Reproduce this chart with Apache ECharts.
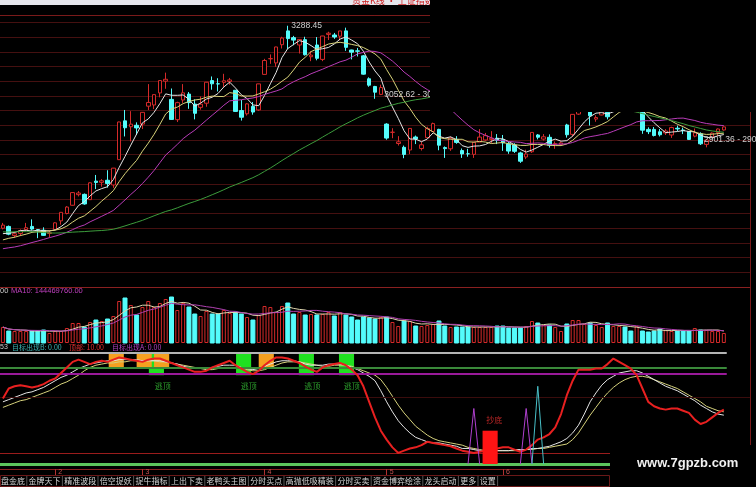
<!DOCTYPE html>
<html><head><meta charset="utf-8">
<script src="https://cdn.jsdelivr.net/npm/echarts@6/dist/echarts.min.js"></script>
<style>html,body{margin:0;padding:0;background:#000;}#c{width:756px;height:487px;}</style>
</head><body><div id="c"></div>
<script>
// ---------- candles (SSE composite, 2019-01-21 .. 2019-07-26) ----------
const opens = [2600,2606,2575,2582,2595,2606,2595,2593,2582,2596,
2625,2650,2678,2714,2715,2697,2760,2756,2763,2747,
2833,2965,2945,2950,2954,3015,3019,3060,3100,3038,
2969,3036,3056,3022,3011,3025,3102,3091,3096,3099,
3069,3000,2989,3014,3002,3123,3176,3162,3224,3271,
3248,3223,3241,3183,3223,3174,3259,3257,3253,3271,
3206,3203,3186,3108,3082,3055,2954,2926,2888,2875,
2866,2910,2871,2908,2929,2936,2874,2870,2902,2864,
2853,2851,2893,2900,2902,2906,2901,2887,2883,2856,
2842,2860,2917,2903,2909,2885,2885,2951,2919,2988,
3006,3004,2971,2985,2994,3024,3040,3034,3014,3000,
3008,2936,2936,2928,2924,2917,2940,2934,2929,2913,
2921,2885,2909,2925,2934];
const closes = [2610.51,2579.70,2581.00,2591.69,2601.72,2596.98,2594.25,2575.58,2584.57,2618.23,
2653.90,2671.89,2721.07,2719.70,2682.39,2754.36,2755.65,2761.22,2751.80,2804.23,
2961.28,2941.52,2953.82,2940.95,2994.01,3027.58,3054.25,3102.10,3106.42,2969.86,
3026.99,3060.31,3026.95,2990.69,3021.75,3096.42,3090.98,3090.64,3101.46,3104.15,
2997.10,2977.33,3022.72,2994.94,3090.76,3170.36,3176.82,3216.30,3246.57,3244.81,
3239.66,3241.93,3189.96,3188.63,3177.79,3253.60,3263.12,3250.20,3270.80,3215.04,
3198.59,3201.61,3123.83,3086.40,3062.50,3078.34,2906.46,2926.39,2893.76,2850.95,
2939.21,2903.71,2883.61,2938.68,2955.71,2882.30,2870.60,2905.97,2891.70,2852.52,
2852.99,2892.38,2909.91,2914.70,2905.81,2898.70,2890.08,2862.28,2861.42,2827.80,
2852.13,2925.72,2909.38,2910.74,2881.97,2887.62,2890.16,2917.80,2987.12,3001.98,
3008.15,2982.07,2976.28,2996.79,2978.88,3044.90,3043.94,3015.26,3005.25,3011.06,
2933.36,2928.23,2915.30,2917.76,2930.55,2942.19,2937.62,2931.69,2901.95,2924.20,
2886.97,2899.94,2923.28,2937.36,2944.54];
const lows = [2596,2576,2567,2573,2590,2592,2566,2574,2568,2595,
2612,2647,2677,2708,2680,2697,2733,2741,2738,2737,
2833,2912,2895,2917,2937,3002,3005,3045,3074,2968,
2961,3026,3006,2970,3003,3013,3071,3065,3080,3088,
2996,2966,2983,2986,2999,3123,3159,3149,3211,3209,
3222,3194,3187,3168,3171,3168,3240,3244,3239,3203,
3174,3184,3122,3081,3040,3052.62,2901,2906,2881,2838,
2852,2886,2864,2906,2927,2865,2839,2863,2887,2839,
2843,2839,2893,2897,2890,2886,2863,2853,2856,2822,
2835,2856,2902,2898,2874,2870,2882,2908,2911,2985,
2997,2949,2962,2984,2970,3022,3030,3011,2999,2994,
2921,2920,2912,2912,2917,2907,2930,2920,2901,2909,
2883,2875,2907,2913,2932];
const highs = [2618,2609,2589,2596,2618,2630,2597,2603,2592,2620,
2654,2675,2723,2726,2718,2756,2781,2767,2797,2805,
2962,3002,2998,2960,2995,3090,3055,3103,3129,3075,
3030,3090,3063,3038,3048,3097,3116,3110,3125,3111,
3069,3036,3025,3029,3091,3176,3191,3217,3251,3288.45,
3254,3242,3251,3202,3250,3254,3268,3264,3271,3282,
3207,3213,3189,3113,3084,3088,2957,2940,2913,2881,
2940,2915,2894,2945,2959,2938,2878,2911,2913,2871,
2870,2893,2937,2924,2930,2920,2917,2893,2889,2860,
2867,2926,2920,2920,2919,2895,2895,2955,2988,3010,
3019,3005,2984,3009,2996,3048,3050,3039,3023,3012,
3009,2943,2944,2937,2937,2945,2949,2942,2929,2939,
2926,2901,2926,2939,2946];
// closes before the first visible day (for the moving averages)
const priorCloses = [2654.88,2594.83,2603.30,2603.80,2598.85,2542.10,2568.05,2602.78,2606.24,2676.48,
2665.43,2659.36,2641.34,2635.63,2598.87,2630.52,2654.88,2632.24,2668.17,2679.11,
2703.51,2645.85,2651.51,2645.43,2579.48,2575.81,2574.68,2601.74,2567.44,2588.19,
2654.80,2665.96,2649.81,2605.18,2605.89,2584.58,2594.09,2602.15,2634.05,2593.74,
2597.97,2576.65,2549.56,2536.27,2516.25,2527.01,2504.82,2498.29,2483.09,2493.90,
2465.29,2464.36,2514.87,2533.09,2526.46,2544.34,2535.10,2553.83,2535.77,2570.42,
2570.34,2559.64,2596.01];
// volume (millions)
const volumes = [192,144,144,144,144,144,144,156,120,144,
144,180,240,240,192,252,276,264,288,324,
504,540,456,336,432,504,432,480,528,552,
396,480,432,348,324,384,348,348,396,360,
372,348,312,276,336,444,432,372,444,480,
348,372,336,348,336,348,372,324,372,336,
312,276,312,300,288,312,312,252,204,264,
264,204,204,216,228,264,204,192,192,192,
192,192,192,192,192,204,204,180,180,180,
204,264,240,216,216,192,144,228,276,276,
228,240,216,192,240,204,204,192,144,204,
144,132,144,168,156,144,144,144,144,180,
156,156,144,144,120];
// ---------- oscillator panel ----------
const oscMain = [59,68,70,71,70,69,70,72,75,77,
82,87,92,94,92,90,92,93,92,94,
96,95,94,93,92,94,95,95,93,91,
89,87,85,83,83,84,87,89,91,93,
89,86,83,81,84,89,93,96,96,95,
93,91,88,85,83,87,89,90,91,89,
85,80,70,56,42,30,22,15,10,12,
14,15,17,20,19,18,17,16,14,12,
11,10,11,12,13,14,15,15,13,11,
13,17,22,24,27,33,45,62,75,85,
85,85,86,86,90,95,92,89,86,80,
68,56,52,50,49,50,50,48,46,40,
36,38,42,46,49];
const oscFast = [56,58,60,62,64,65,67,69,72,75,
78,80,83,86,88,90,91,92,93,93,
94,94,94,94,93,93,93,93,92,91,
90,88,87,86,86,86,87,88,89,89,
89,87,86,85,86,88,90,92,93,93,
93,92,90,89,89,89,90,90,90,89,
87,85,82,79,75,66,56,47,39,33,
28,24,22,20,19,19,18,17,16,14,
14,13,12,11,11,12,12,12,13,13,
13,14,14,15,16,18,20,23,28,35,
45,56,64,71,76,79,82,83,84,84,
82,79,76,73,70,68,66,63,60,57,
53,50,47,45,44];
const oscSlow = [51,53,55,57,58,60,62,64,66,69,
72,74,77,80,84,87,89,90,91,91,
92,92,93,93,93,93,93,92,92,91,
90,89,88,87,86,85,85,86,87,87,
87,87,85,84,84,85,87,89,91,92,
92,92,91,90,89,88,88,89,89,89,
88,86,84,82,80,76,69,61,53,46,
40,34,30,26,23,21,20,19,18,17,
15,14,13,12,12,12,12,12,12,12,
13,13,14,14,15,16,17,18,22,28,
36,44,51,58,64,69,73,76,78,79,
79,78,76,74,72,70,68,65,62,59,
56,52,50,48,47];
const levelTop = 100, levelGreen = 87, levelPurple = 81, levelMid = 60, levelLow = 10, levelZero = 0;
const orangeBoxIdx = [19.5, 24.3, 27.3, 45.3];
const orangeBoxRange = [100, 86];
const greenBoxIdx = [26.4, 41.4, 52.2, 59.1];
const greenBoxRange = [100, 80];
const bottomBarIdx = [83.8];
const bottomBarRange = [30, 0];
const signalAIdx = [81, 90], signalAPeak = [50, 50];
const signalBIdx = [92], signalBPeak = [70];
const topSignalIdx = [27.5, 42.3, 53.2, 60.0], topSignalLevel = 70;
const bottomSignalIdx = [84.5], bottomSignalLevel = 40;
// ---------- tick labels / texts ----------
const monthTickIdx = [9, 24, 45, 66, 86];
const monthTickLabels = ['2', '3', '4', '5', '6'];
const priceNotes = [
  {idx: 49, price: 3288.45, text: '3288.45'},
  {idx: 65, price: 3052.62, text: '3052.62 - 3088.27'},
  {idx: 120, price: 2901.36, text: '2901.36 - 2909.66'}
];
const toolbarItems = ['盘金底','金牌天下','精准波段','倍空捉妖','捉牛指标','上出下卖','老鸭头主图','分时买点','高抛低吸精装','分时买卖','资金博弈绘涂','龙头启动','更多','设置'];

// ---------- build ----------
const SLOTS = 129;
const cats = Array.from({length: SLOTS}, (_, i) => String(i));
const candleData = closes.map((c, i) => [opens[i], c, lows[i], highs[i]]);
function movingAvg(series, prior, n) {
  const all = prior.concat(series), off = prior.length;
  return series.map((_, i) => {
    const end = off + i, start = Math.max(0, end - n + 1);
    let s = 0; for (let k = start; k <= end; k++) s += all[k];
    return +(s / (end - start + 1)).toFixed(2);
  });
}
const UP = '#d42a2a', DOWN = '#54fcfc';
const volData = volumes.map((v, i) => ({value: v, itemStyle: closes[i] >= opens[i]
  ? {color: '#000', borderColor: UP, borderWidth: 1} : {color: DOWN, borderColor: DOWN}}));
const xy = arr => arr.map((v, i) => [i, v]);
function spikes(idx, peaks) {
  const d = [];
  idx.forEach((x, k) => { d.push([x - 1, 0], [x, peaks[k]], [x + 1, 0], [x + 1.5, '-']); });
  return d;
}
function boxRenderer(range, color) {
  return (params, api) => {
    const cx = api.value(0);
    const a = api.coord([cx, range[0]]), b = api.coord([cx, range[1]]);
    const w = api.size([1, 0])[0] * 2.6;
    return {type: 'rect', shape: {x: a[0] - w / 2, y: a[1], width: w, height: b[1] - a[1]}, style: {fill: color}};
  };
}
const FRAME = '#7a1a1a';
const CJK = '"Noto Sans CJK SC"';

// toolbar graphics
const tbEls = [];
let tx = 1;
const tbFont = 8;
toolbarItems.forEach((t) => {
  tbEls.push({type: 'text', x: tx, y: 481, z: 110,
    style: {text: t, fill: '#d2d2d2', font: tbFont + 'px ' + CJK, verticalAlign: 'middle'}});
  tx += t.length * tbFont + 3.6;
  tbEls.push({type: 'line', z: 110, shape: {x1: tx - 1.8, y1: 476, x2: tx - 1.8, y2: 486},
    style: {stroke: '#555', lineWidth: 1}});
});

const option = {
  backgroundColor: '#000',
  animation: false,
  grid: [
    {left: 0, right: 6, top: 15, height: 272},
    {left: 0, right: 6, top: 287, height: 56},
    {left: 0, right: 6, top: 343, height: 126}
  ],
  xAxis: [
    {type: 'category', data: cats, gridIndex: 0, position: 'top', boundaryGap: true,
      axisLine: {show: true, onZero: false, lineStyle: {color: FRAME}}, axisTick: {show: false}, axisLabel: {show: false}, splitLine: {show: false}},
    {type: 'category', data: cats, gridIndex: 1, position: 'top', boundaryGap: true,
      axisLine: {show: true, onZero: false, lineStyle: {color: '#8a2020'}}, axisTick: {show: false}, axisLabel: {show: false}, splitLine: {show: false}},
    {type: 'value', gridIndex: 2, min: -0.5, max: 128.5, position: 'bottom',
      axisLine: {show: true, onZero: false, lineStyle: {color: '#8a2020'}},
      axisTick: {show: true, customValues: monthTickIdx, length: 6, lineStyle: {color: '#b03030'}},
      axisLabel: {show: true, customValues: monthTickIdx, color: '#c85050', fontSize: 7, margin: 0, align: 'left', padding: [0, 0, 0, 3],
        fontFamily: 'Liberation Sans', formatter: v => monthTickLabels[monthTickIdx.indexOf(Math.round(v))] || ''},
      splitLine: {show: false}}
  ],
  yAxis: [
    {type: 'value', gridIndex: 0, min: 2400, max: 3325, interval: 50, position: 'right', scale: true,
      axisLine: {show: true, onZero: false, lineStyle: {color: FRAME}}, axisTick: {show: false}, axisLabel: {show: false},
      splitLine: {show: true, lineStyle: {color: '#451010', width: 1}}},
    {type: 'value', gridIndex: 1, min: 0, max: 672, position: 'right',
      axisLine: {show: true, onZero: false, lineStyle: {color: FRAME}}, axisTick: {show: false}, axisLabel: {show: false}, splitLine: {show: false}},
    {type: 'value', gridIndex: 2, min: -4.5, max: 109, position: 'right',
      axisLine: {show: true, onZero: false, lineStyle: {color: FRAME}}, axisTick: {show: false}, axisLabel: {show: false}, splitLine: {show: false}}
  ],
  series: [
    {type: 'candlestick', xAxisIndex: 0, yAxisIndex: 0, data: candleData, barWidth: 4, z: 3,
      itemStyle: {color: '#000', color0: DOWN, borderColor: UP, borderColor0: DOWN, borderWidth: 1},
      markPoint: {symbol: 'rect', symbolSize: 1, itemStyle: {color: 'rgba(0,0,0,0)'},
        label: {show: true, position: 'right', distance: 3, color: '#cfcfcf', fontSize: 8.5, fontFamily: 'Liberation Sans',
          formatter: p => p.name},
        data: priceNotes.map(n => ({name: n.text, coord: [n.idx, n.price]}))}},
    {type: 'line', name: 'MA5', xAxisIndex: 0, yAxisIndex: 0, data: movingAvg(closes, priorCloses, 5), symbol: 'none', z: 4,
      lineStyle: {color: '#e6e6e6', width: 1}},
    {type: 'line', name: 'MA10', xAxisIndex: 0, yAxisIndex: 0, data: movingAvg(closes, priorCloses, 10), symbol: 'none', z: 4,
      lineStyle: {color: '#d8d27a', width: 1}},
    {type: 'line', name: 'MA20', xAxisIndex: 0, yAxisIndex: 0, data: movingAvg(closes, priorCloses, 20), symbol: 'none', z: 4,
      lineStyle: {color: '#b83cb8', width: 1}},
    {type: 'line', name: 'MA60', xAxisIndex: 0, yAxisIndex: 0, data: movingAvg(closes, priorCloses, 60), symbol: 'none', z: 4,
      lineStyle: {color: '#3c9c3c', width: 1}},
    {type: 'bar', xAxisIndex: 1, yAxisIndex: 1, data: volData, barWidth: 4, z: 3},
    {type: 'line', xAxisIndex: 1, yAxisIndex: 1, data: movingAvg(volumes, [], 5), symbol: 'none', z: 4,
      lineStyle: {color: '#e0d8b0', width: 1}},
    {type: 'line', xAxisIndex: 1, yAxisIndex: 1, data: movingAvg(volumes, [], 10), symbol: 'none', z: 4,
      lineStyle: {color: '#b040b0', width: 1}},
    // indicator panel
    {type: 'custom', xAxisIndex: 2, yAxisIndex: 2, z: 2, renderItem: boxRenderer(greenBoxRange, '#20e020'),
      encode: {x: 0, y: 1}, data: greenBoxIdx.map(v => [v, greenBoxRange[0]])},
    {type: 'custom', xAxisIndex: 2, yAxisIndex: 2, z: 2, renderItem: boxRenderer(orangeBoxRange, '#f5a020'),
      encode: {x: 0, y: 1}, data: orangeBoxIdx.map(v => [v, orangeBoxRange[0]])},
    {type: 'line', xAxisIndex: 2, yAxisIndex: 2, data: xy(oscSlow), symbol: 'none', z: 4,
      lineStyle: {color: '#d6d27c', width: 1}},
    {type: 'line', xAxisIndex: 2, yAxisIndex: 2, data: xy(oscFast), symbol: 'none', z: 4,
      lineStyle: {color: '#e4e4e4', width: 1}},
    {type: 'line', xAxisIndex: 2, yAxisIndex: 2, data: xy(oscMain), symbol: 'none', z: 5,
      lineStyle: {color: '#e82020', width: 2},
      markLine: {symbol: 'none', silent: true, label: {show: false}, animation: false,
        data: [
          [{coord: [-0.5, levelTop], lineStyle: {color: '#b4b4b4', width: 2, type: 'solid'}}, {coord: [124.5, levelTop]}],
          [{coord: [-0.5, levelGreen], lineStyle: {color: '#3a8a3a', width: 2, type: 'solid'}}, {coord: [124.5, levelGreen]}],
          [{coord: [-0.5, levelPurple], lineStyle: {color: '#9a1a9a', width: 2, type: 'solid'}}, {coord: [124.5, levelPurple]}],
          {yAxis: levelMid, lineStyle: {color: '#3a0c0c', width: 1, type: 'solid'}},
          {yAxis: levelLow, lineStyle: {color: '#9a1c1c', width: 1, type: 'solid'}},
          {yAxis: levelZero, lineStyle: {color: '#5cc45c', width: 3, type: 'solid'}}
        ]}},
    {type: 'line', xAxisIndex: 2, yAxisIndex: 2, data: spikes(signalAIdx, signalAPeak), symbol: 'none', z: 6,
      lineStyle: {color: '#b040d0', width: 1}},
    {type: 'line', xAxisIndex: 2, yAxisIndex: 2, data: spikes(signalBIdx, signalBPeak), symbol: 'none', z: 6,
      lineStyle: {color: '#48c0c8', width: 1}},
    {type: 'custom', xAxisIndex: 2, yAxisIndex: 2, z: 7, renderItem: boxRenderer(bottomBarRange, '#ff1414'),
      encode: {x: 0, y: 1}, data: bottomBarIdx.map(v => [v, bottomBarRange[0]])},
    {type: 'scatter', xAxisIndex: 2, yAxisIndex: 2, z: 8, symbol: 'circle', symbolSize: 1,
      itemStyle: {color: 'rgba(0,0,0,0)'},
      label: {show: true, position: 'inside', formatter: '逃顶', color: '#36c036', fontSize: 8, fontFamily: 'Noto Sans CJK SC'},
      data: topSignalIdx.map(v => [v, topSignalLevel])},
    {type: 'scatter', xAxisIndex: 2, yAxisIndex: 2, z: 8, symbol: 'circle', symbolSize: 1,
      itemStyle: {color: 'rgba(0,0,0,0)'},
      label: {show: true, position: 'inside', formatter: '抄底', color: '#e83030', fontSize: 8, fontFamily: 'Noto Sans CJK SC'},
      data: bottomSignalIdx.map(v => [v, bottomSignalLevel])}
  ],
  graphic: [
    {type: 'rect', x: 0, y: 0, z: 100, shape: {width: 756, height: 5}, style: {fill: '#e6e6ec'}},
    {type: 'text', x: 352, y: -4, z: 101, style: {text: '资金K线 · 上证指数', fill: '#cc2020', font: '9px ' + CJK}},
    {type: 'rect', x: 430, y: 0, z: 102, shape: {width: 326, height: 112}, style: {fill: '#000'}},
    {type: 'text', x: 0, y: 291, z: 103, style: {text: '00', fill: '#c8c8c8', font: '7.5px "Liberation Sans"', verticalAlign: 'middle'}},
    {type: 'text', x: 11, y: 291, z: 103, style: {text: 'MA10: 144469760.00', fill: '#c040c0', font: '7.5px "Liberation Sans"', verticalAlign: 'middle'}},
    {type: 'text', x: 0, y: 347, z: 103, style: {text: '53', fill: '#c8c8c8', font: '7px "Liberation Sans"', verticalAlign: 'middle'}},
    {type: 'text', x: 12, y: 347, z: 103, style: {text: '目标出现B: 0.00', fill: '#3cb4b4', font: '7px ' + CJK, verticalAlign: 'middle'}},
    {type: 'text', x: 69, y: 347, z: 103, style: {text: '顶部: 10.00', fill: '#e03030', font: '7px ' + CJK, verticalAlign: 'middle'}},
    {type: 'text', x: 112, y: 347, z: 103, style: {text: '目标出现A: 0.00', fill: '#b040c0', font: '7px ' + CJK, verticalAlign: 'middle'}},
    {type: 'rect', x: 610, y: 445, z: 104, shape: {width: 146, height: 42}, style: {fill: '#000'}},
    {type: 'text', x: 637, y: 463, z: 105, style: {text: 'www.7gpzb.com', fill: '#f0f0f0', font: 'bold 13px "Liberation Sans"', verticalAlign: 'middle'}},
    {type: 'rect', x: 0.5, y: 475.5, z: 109, shape: {width: 609, height: 11}, style: {fill: '#000', stroke: '#6a1818', lineWidth: 1}}
  ].concat(tbEls)
};
const chart = echarts.init(document.getElementById('c'), null, {renderer: 'canvas', width: 756, height: 487});
chart.setOption(option);
</script>
</body></html>
